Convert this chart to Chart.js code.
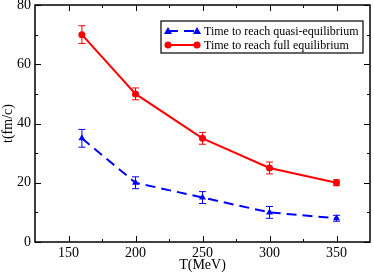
<!DOCTYPE html>
<html><head><meta charset="utf-8">
<script src="https://cdn.jsdelivr.net/npm/chart.js@4/dist/chart.umd.min.js"></script>
<style>html,body{margin:0;padding:0;background:#fff}#wrap{width:374px;height:272px}</style>
</head><body><div id="wrap"><canvas id="c" width="374" height="272"></canvas></div>
<script>
const temps = [160, 200, 250, 300, 350];
const quasi = [35, 20, 15, 10, 8];
const quasiErr = [3, 2, 2, 2, 1];
const full = [70, 50, 35, 25, 20];
const fullErr = [3, 2, 2, 2, 1];
const xTicks = [150, 200, 250, 300, 350];
const yTicks = [0, 20, 40, 60, 80];
const xMinor = [175, 225, 275, 325];
const yMinor = [10, 30, 50, 70];
const legendLabels = ['Time to reach quasi-equilibrium', 'Time to reach full equilibrium'];
const FONT = '"Liberation Serif", "Times New Roman", serif';

const errs = [quasiErr, fullErr];

const plugin = {
  id: 'deco',
  beforeDatasetsDraw(chart) {
    const ctx = chart.ctx, xs = chart.scales.x, ys = chart.scales.y;
    chart.data.datasets.forEach((ds, i) => {
      ctx.save();
      ctx.strokeStyle = ds.borderColor; ctx.lineWidth = 1;
      ds.data.forEach((p, j) => {
        const e = errs[i][j];
        const px = xs.getPixelForValue(p.x);
        const y1 = ys.getPixelForValue(p.y + e), y2 = ys.getPixelForValue(p.y - e);
        ctx.beginPath();
        ctx.moveTo(px, y1); ctx.lineTo(px, y2);
        ctx.moveTo(px - 3.5, y1); ctx.lineTo(px + 3.5, y1);
        ctx.moveTo(px - 3.5, y2); ctx.lineTo(px + 3.5, y2);
        ctx.stroke();
      });
      ctx.restore();
    });
  },
  afterDraw(chart) {
    const ctx = chart.ctx, a = chart.chartArea, xs = chart.scales.x, ys = chart.scales.y;
    ctx.save();
    ctx.strokeStyle = '#000'; ctx.lineWidth = 1.5;
    ctx.strokeRect(a.left, a.top, a.right - a.left, a.bottom - a.top);
    ctx.lineWidth = 1;
    ctx.beginPath();
    const tx = (v, len) => { const p = Math.round(xs.getPixelForValue(v)) + 0.5;
      ctx.moveTo(p, a.bottom); ctx.lineTo(p, a.bottom - len);
      ctx.moveTo(p, a.top); ctx.lineTo(p, a.top + len); };
    const ty = (v, len) => { const p = Math.round(ys.getPixelForValue(v)) + 0.5;
      ctx.moveTo(a.left, p); ctx.lineTo(a.left + len, p);
      ctx.moveTo(a.right, p); ctx.lineTo(a.right - len, p); };
    xTicks.forEach(v => tx(v, 6)); xMinor.forEach(v => tx(v, 3));
    yTicks.forEach(v => ty(v, 6)); yMinor.forEach(v => ty(v, 3));
    ctx.stroke();
    // legend
    const lx = 161, ly = 21, lw = 202, lh = 32;
    ctx.fillStyle = '#fff'; ctx.fillRect(lx, ly, lw, lh);
    ctx.lineWidth = 1.2; ctx.strokeStyle = '#000';
    ctx.strokeRect(lx, ly, lw, lh);
    chart.data.datasets.forEach((ds, i) => {
      const y = ly + 10 + i * 14;
      ctx.save();
      ctx.strokeStyle = ds.borderColor; ctx.lineWidth = 2;
      ctx.setLineDash(ds.borderDash || []);
      ctx.beginPath(); ctx.moveTo(168, y); ctx.lineTo(197, y); ctx.stroke();
      ctx.setLineDash([]);
      ctx.fillStyle = ds.borderColor;
      [168, 197].forEach(mx => {
        ctx.beginPath();
        if (ds.pointStyle === 'triangle') {
          ctx.moveTo(mx, y - 4); ctx.lineTo(mx + 4, y + 3); ctx.lineTo(mx - 4, y + 3); ctx.closePath();
        } else { ctx.arc(mx, y, 3.5, 0, Math.PI * 2); }
        ctx.fill();
      });
      ctx.restore();
      ctx.fillStyle = '#000'; ctx.font = '12px ' + FONT;
      ctx.textBaseline = 'middle'; ctx.textAlign = 'left';
      ctx.fillText(legendLabels[i], 204, y + 0.5);
    });
    ctx.restore();
  }
};

new Chart(document.getElementById('c'), {
  type: 'line',
  data: {
    datasets: [
      { label: legendLabels[0], data: temps.map((t, i) => ({x: t, y: quasi[i]})),
        borderColor: '#0000ff', backgroundColor: '#0000ff', borderWidth: 2, borderDash: [10, 6],
        pointStyle: 'triangle', pointRadius: 4, pointBorderWidth: 0, tension: 0 },
      { label: legendLabels[1], data: temps.map((t, i) => ({x: t, y: full[i]})),
        borderColor: '#ff0000', backgroundColor: '#ff0000', borderWidth: 2,
        pointStyle: 'circle', pointRadius: 3.5, pointBorderWidth: 0, tension: 0 }
    ]
  },
  options: {
    responsive: false, animation: false, devicePixelRatio: 1,
    layout: { padding: { top: 5, right: 2, left: 0, bottom: 0 } },
    plugins: { legend: { display: false }, tooltip: { enabled: false } },
    scales: {
      x: { type: 'linear', min: 125, max: 375,
        grid: { display: false, drawTicks: false }, border: { display: false },
        afterBuildTicks: s => { s.ticks = xTicks.map(v => ({value: v})); },
        afterFit: s => { s.height = 30; s.paddingLeft = 0; s.paddingRight = 0; },
        ticks: { color: '#000', font: { family: FONT, size: 14 }, padding: 3, maxRotation: 0, autoSkip: false },
        title: { display: true, text: 'T(MeV)', color: '#000', font: { family: FONT, size: 14 }, padding: { top: 0, bottom: -2 } } },
      y: { min: 0, max: 80,
        grid: { display: false, drawTicks: false }, border: { display: false },
        afterBuildTicks: s => { s.ticks = yTicks.map(v => ({value: v})); },
        afterFit: s => { s.width = 35; s.paddingTop = 0; s.paddingBottom = 0; },
        ticks: { color: '#000', font: { family: FONT, size: 14 }, padding: 4, autoSkip: false },
        title: { display: true, text: 't(fm/c)', color: '#000', font: { family: FONT, size: 14 }, padding: 0 } }
    }
  },
  plugins: [plugin]
});
</script></body></html>
